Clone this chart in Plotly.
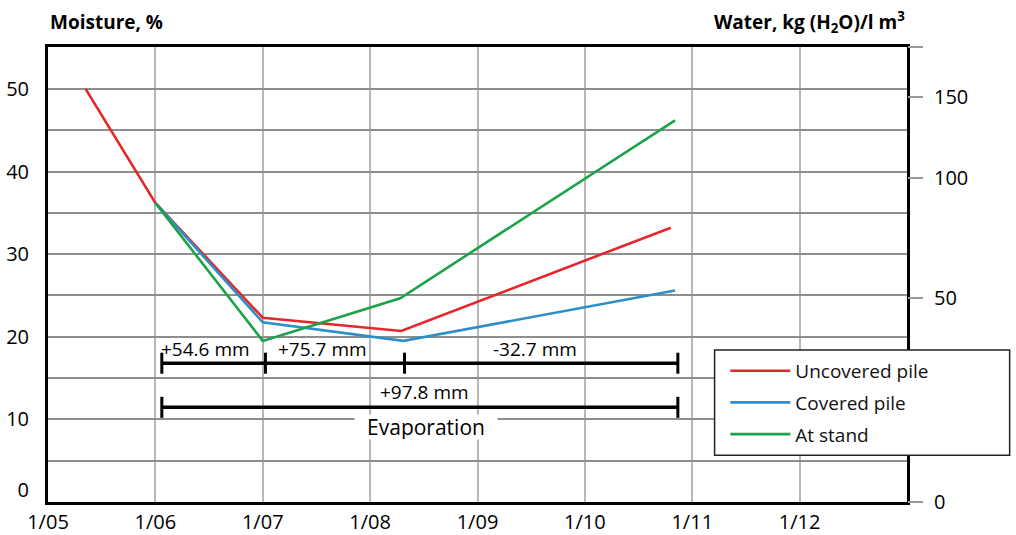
import plotly.graph_objects as go

# x values are in months counted from 1 May (0 = 1/05, 1 = 1/06, ...)
month_ticks = [0, 1, 2, 3, 4, 5, 6, 7]
month_labels = ["1/05", "1/06", "1/07", "1/08", "1/09", "1/10", "1/11", "1/12"]

uncovered_x = [0.35, 1.0, 2.0, 3.29, 5.80]
uncovered_y = [50.0, 36.2, 22.3, 20.7, 33.2]

covered_x = [1.0, 2.0, 3.31, 5.84]
covered_y = [36.2, 21.75, 19.5, 25.6]

stand_x = [1.0, 2.0, 3.28, 5.84]
stand_y = [36.2, 19.5, 24.66, 46.2]

# evaporation brackets
evap_parts_x = [1.06, 2.025, 3.32, 5.866]
evap_parts_y = 16.8
evap_total_x = [1.06, 5.866]
evap_total_y = 11.46
evap_labels = ["+54.6 mm", "+75.7 mm", "-32.7 mm", "+97.8 mm"]
evap_label_x = [1.466, 2.557, 4.533, 3.502]
evap_label_y = [18.54, 18.54, 18.54, 13.37]

# left axis (moisture %)
moist_grid = [0, 5, 10, 15, 20, 25, 30, 35, 40, 45, 50, 55]
moist_tickvals = [1.42, 10, 20, 30, 40, 50]
moist_ticktext = ["0", "10", "20", "30", "40", "50"]

# right axis (water kg/m3) placed at equivalent moisture positions
water_tickvals = [0, 24.66, 39.2, 49.06, 55.05]
water_ticktext = ["0", "50", "100", "150", " "]

Y_RANGE = [0, 55.07]
X_RANGE = [0, 8]
FONT = "Open Sans"

RED = "#e6262a"
BLUE = "#2e8fc6"
GREEN = "#1da24a"

fig = go.Figure()

fig.add_trace(go.Scatter(x=uncovered_x, y=uncovered_y, mode="lines", name="Uncovered pile",
                         line=dict(color=RED, width=2.6), legendgroup="a"))
fig.add_trace(go.Scatter(x=covered_x, y=covered_y, mode="lines", name="Covered pile",
                         line=dict(color=BLUE, width=2.6), legendgroup="b"))
fig.add_trace(go.Scatter(x=stand_x, y=stand_y, mode="lines", name="At stand",
                         line=dict(color=GREEN, width=2.6), legendgroup="c"))

fig.add_trace(go.Scatter(x=evap_parts_x, y=[evap_parts_y] * len(evap_parts_x), mode="lines+markers",
                         line=dict(color="black", width=3.5),
                         marker=dict(symbol="line-ns", size=15, line=dict(width=3, color="black")),
                         showlegend=False, hoverinfo="skip"))
fig.add_trace(go.Scatter(x=evap_total_x, y=[evap_total_y] * len(evap_total_x), mode="lines+markers",
                         line=dict(color="black", width=3.5),
                         marker=dict(symbol="line-ns", size=15, line=dict(width=3, color="black")),
                         showlegend=False, hoverinfo="skip"))

# empty traces so the overlay axes exist
fig.add_trace(go.Scatter(x=[], y=[], yaxis="y2", showlegend=False, hoverinfo="skip"))
fig.add_trace(go.Scatter(x=[], y=[], yaxis="y3", showlegend=False, hoverinfo="skip"))

for txt, ax_, ay_ in zip(evap_labels, evap_label_x, evap_label_y):
    fig.add_annotation(x=ax_, y=ay_, xref="x", yref="y", text=txt, showarrow=False,
                       font=dict(family=FONT, size=19, color="black"))

fig.add_annotation(x=3.516, y=9.08, xref="x", yref="y", text="Evaporation", showarrow=False,
                   font=dict(family=FONT, size=21, color="black"), bgcolor="white",
                   width=142, height=24, borderpad=0)

fig.add_annotation(x=0, y=1.0, xref="paper", yref="paper", yshift=25, text="<b>Moisture, %</b>",
                   showarrow=False, xanchor="left", yanchor="middle",
                   font=dict(family=FONT, size=19, color="black"))
fig.add_annotation(x=1.0, y=1.0, xref="paper", yref="paper", yshift=25,
                   text="<b>Water, kg (H<sub>2</sub>O)/l m<sup>3</sup></b>",
                   showarrow=False, xanchor="right", yanchor="middle",
                   font=dict(family=FONT, size=19, color="black"))

# legend frame (plot area: x 48..907 px, y 47..502 px)
fig.add_shape(type="rect", xref="paper", yref="paper", layer="above",
              x0=0.776, x1=1.1195, y0=0.1025, y1=0.334,
              fillcolor="white", line=dict(color="#222", width=1.5))

fig.update_layout(
    template="none",
    width=1016, height=535,
    margin=dict(l=48, r=109, t=47, b=33, autoexpand=False),
    paper_bgcolor="white", plot_bgcolor="white",
    font=dict(family=FONT, size=19, color="black"),
    showlegend=True,
    legend=dict(x=0.7885, y=0.330, xanchor="left", yanchor="top",
                bgcolor="rgba(0,0,0,0)", borderwidth=0,
                font=dict(family=FONT, size=19, color="#111"),
                tracegroupgap=4, itemwidth=60),
    xaxis=dict(range=X_RANGE, tickmode="array", tickvals=month_ticks, ticktext=month_labels,
               showgrid=True, gridcolor="#b8b8b8", gridwidth=1.5, automargin=False,
               showline=True, linecolor="black", linewidth=2.6, mirror=True,
               ticks="",
               tickfont=dict(family=FONT, size=20), zeroline=False),
    yaxis=dict(range=Y_RANGE, tickmode="array", tickvals=moist_grid, showticklabels=False,
               showgrid=True, gridcolor="#8e8e8e", gridwidth=1.5, automargin=False,
               showline=True, linecolor="black", linewidth=2.6, mirror=True,
               zeroline=False, ticks=""),
    yaxis2=dict(range=Y_RANGE, overlaying="y", side="right", tickmode="array",
                tickvals=water_tickvals, ticktext=water_ticktext, showgrid=False, automargin=False,
                showline=False, zeroline=False, ticks="outside", ticklen=15, tickwidth=2,
                ticklabelstandoff=7,
                tickcolor="#9a9a9a", tickfont=dict(family=FONT, size=20)),
    yaxis3=dict(range=Y_RANGE, overlaying="y", side="left", tickmode="array",
                tickvals=moist_tickvals, ticktext=moist_ticktext, showgrid=False, automargin=False,
                showline=False, zeroline=False, ticks="outside", ticklen=14,
                tickcolor="rgba(0,0,0,0)", tickfont=dict(family=FONT, size=20)),
)

fig.write_html("out.html", config={"displayModeBar": False},
               post_script="document.body.style.margin='0px';")
